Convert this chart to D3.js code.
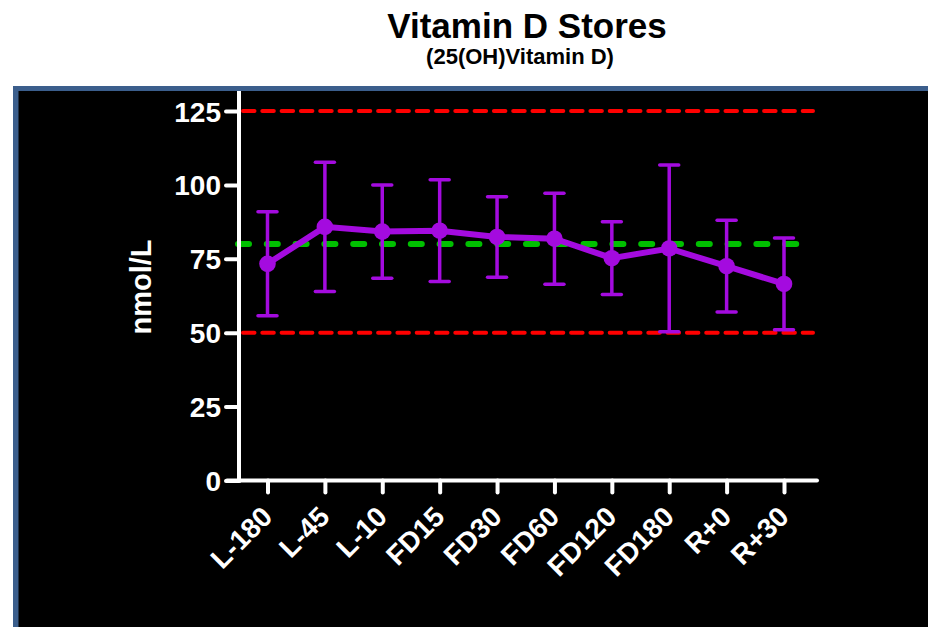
<!DOCTYPE html>
<html>
<head>
<meta charset="utf-8">
<script src="https://cdn.jsdelivr.net/npm/d3@7"></script>
<style>
  body { margin: 0; background: #fff; }
  svg { display: block; font-family: "Liberation Sans", Arial, sans-serif; font-weight: bold; }
</style>
</head>
<body>
<div id="chart"></div>
<script>
// timepoints and 25(OH)D values (mean ± sd)
const timepoints = ["L-180", "L-45", "L-10", "FD15", "FD30", "FD60", "FD120", "FD180", "R+0", "R+30"];
const means = [73.3, 85.8, 84.2, 84.5, 82.4, 81.8, 75.2, 78.5, 72.5, 66.5];
const sds = [17.6, 21.9, 15.8, 17.2, 13.6, 15.4, 12.3, 28.2, 15.5, 15.5];
const yTicks = [0, 25, 50, 75, 100, 125];
const limitLines = [50, 125];   // red dotted range
const targetLine = 80;          // green dashed

const width = 928;
const height = 627;
const purple = "#a40bdf";

const data = timepoints.map((t, i) => ({ t, mean: means[i], sd: sds[i] }));

const svg = d3.select("#chart")
    .append("svg")
    .attr("width", width)
    .attr("height", height);

// dark panel with blue frame
svg.append("rect")
    .attr("x", 13).attr("y", 86)
    .attr("width", 1000).attr("height", 600)
    .attr("fill", "#3b5e8c");
svg.append("rect")
    .attr("x", 18.5).attr("y", 91)
    .attr("width", 1000).attr("height", 600)
    .attr("fill", "#000");

// titles
svg.append("text")
    .attr("x", 527).attr("y", 38)
    .attr("text-anchor", "middle")
    .style("font-size", "35px")
    .text("Vitamin D Stores");
svg.append("text")
    .attr("x", 520).attr("y", 64)
    .attr("text-anchor", "middle")
    .style("font-size", "22px")
    .text("(25(OH)Vitamin D)");

// scales
const x = d3.scalePoint()
    .domain(timepoints)
    .range([267.5, 784]);

const y = d3.scaleLinear()
    .domain([0, 125])
    .range([480.5, 111]);

const axisX0 = 239, axisX1 = 817;

// reference lines
svg.selectAll(".limit")
    .data(limitLines)
    .enter()
    .append("line")
    .attr("x1", 243).attr("x2", 813)
    .attr("y1", d => y(d)).attr("y2", d => y(d))
    .attr("stroke", "#ff0000")
    .attr("stroke-width", 4)
    .attr("stroke-linecap", "round")
    .attr("stroke-dasharray", "11.5 7.8");

svg.append("line")
    .attr("x1", 238).attr("x2", 813)
    .attr("y1", y(targetLine)).attr("y2", y(targetLine))
    .attr("stroke", "#00c000")
    .attr("stroke-width", 6)
    .attr("stroke-linecap", "round")
    .attr("stroke-dasharray", "11 17.8");

// y axis
const yAxis = svg.append("g")
    .attr("transform", `translate(${axisX0},0)`)
    .call(d3.axisLeft(y).tickValues(yTicks).tickSize(13).tickPadding(5));
yAxis.select(".domain").remove();
yAxis.selectAll(".tick line").attr("stroke", "#fff").attr("stroke-width", 4).attr("stroke-linecap", "round");
yAxis.selectAll(".tick text")
    .attr("fill", "#fff")
    .style("font-size", "28px")
    .style("font-family", "'Liberation Sans', Arial, sans-serif")
    .style("font-weight", "bold")
    .attr("dy", "0.36em");

svg.append("line")
    .attr("x1", axisX0).attr("x2", axisX0)
    .attr("y1", 91).attr("y2", 482.5)
    .attr("stroke", "#fff").attr("stroke-width", 4);

// x axis, labels rotated so they end just under each tick
const xAxis = svg.append("g")
    .attr("transform", `translate(0,${y(0)})`)
    .call(d3.axisBottom(x).tickSize(12).tickPadding(4));
xAxis.select(".domain").remove();
xAxis.selectAll(".tick line").attr("stroke", "#fff").attr("stroke-width", 4).attr("stroke-linecap", "round");
xAxis.selectAll(".tick text")
    .attr("fill", "#fff")
    .style("font-size", "28px")
    .style("font-family", "'Liberation Sans', Arial, sans-serif")
    .style("font-weight", "bold")
    .attr("text-anchor", "end")
    .attr("y", 0)
    .attr("dy", null)
    .attr("transform", "translate(6,38) rotate(-45)");

svg.append("line")
    .attr("x1", axisX0 - 12).attr("x2", axisX1)
    .attr("y1", y(0)).attr("y2", y(0))
    .attr("stroke", "#fff").attr("stroke-width", 4).attr("stroke-linecap", "round");

// y label
svg.append("text")
    .attr("transform", `translate(151,287) rotate(-90)`)
    .attr("text-anchor", "middle")
    .attr("fill", "#fff")
    .style("font-size", "29px")
    .text("nmol/L");

// error bars
const bars = svg.append("g").selectAll("g")
    .data(data)
    .enter()
    .append("g");

bars.append("line")
    .attr("x1", d => x(d.t)).attr("x2", d => x(d.t))
    .attr("y1", d => y(d.mean + d.sd)).attr("y2", d => y(d.mean - d.sd))
    .attr("stroke", purple).attr("stroke-width", 3.5);

bars.selectAll(".cap")
    .data(d => [d.mean + d.sd, d.mean - d.sd].map(v => ({ t: d.t, v })))
    .enter()
    .append("line")
    .attr("x1", d => x(d.t) - 9.5).attr("x2", d => x(d.t) + 9.5)
    .attr("y1", d => y(d.v)).attr("y2", d => y(d.v))
    .attr("stroke", purple).attr("stroke-width", 3.5).attr("stroke-linecap", "round");

// mean line + markers
svg.append("path")
    .datum(data)
    .attr("fill", "none")
    .attr("stroke", purple)
    .attr("stroke-width", 6)
    .attr("d", d3.line().x(d => x(d.t)).y(d => y(d.mean)));

svg.append("g").selectAll("circle")
    .data(data)
    .enter()
    .append("circle")
    .attr("cx", d => x(d.t))
    .attr("cy", d => y(d.mean))
    .attr("r", 8.3)
    .attr("fill", purple);
</script>
</body>
</html>
